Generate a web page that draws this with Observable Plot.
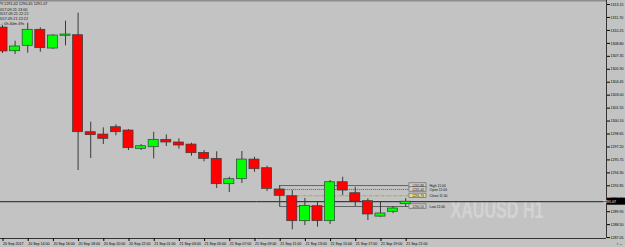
<!DOCTYPE html>
<html><head><meta charset="utf-8">
<script src="https://cdn.jsdelivr.net/npm/d3@7"></script>
<script src="https://cdn.jsdelivr.net/npm/@observablehq/plot@0.6"></script>
<style>
html,body{margin:0;padding:0;background:#c3c3c3;overflow:hidden}
svg{display:block}
</style></head><body><div id="chart"></div>
<script>
// ---- data (XAUUSD H1, 20 Sep 12:00 .. 21 Sep 21:00) ----
const barTimes = ["20 Sep 12:00","20 Sep 13:00","20 Sep 14:00","20 Sep 15:00","20 Sep 16:00","20 Sep 17:00","20 Sep 18:00","20 Sep 19:00","20 Sep 20:00","20 Sep 21:00","20 Sep 22:00","20 Sep 23:00",
  "21 Sep 01:00","21 Sep 02:00","21 Sep 03:00","21 Sep 04:00","21 Sep 05:00","21 Sep 06:00","21 Sep 07:00","21 Sep 08:00","21 Sep 09:00","21 Sep 10:00","21 Sep 11:00","21 Sep 12:00",
  "21 Sep 13:00","21 Sep 14:00","21 Sep 15:00","21 Sep 16:00","21 Sep 17:00","21 Sep 18:00","21 Sep 19:00","21 Sep 20:00","21 Sep 21:00"];
const open  = [1310.57,1307.92,1308.53,1310.32,1308.22,1309.65,1309.71,1298.85,1298.59,1299.41,1299.04,1296.99,
  1297.17,1298.00,1297.70,1297.47,1296.54,1295.87,1293.03,1293.59,1295.79,1294.82,1292.44,1291.68,
  1288.89,1290.57,1288.89,1293.25,1292.02,1291.13,1289.40,1289.94,1290.79];
const high  = [1310.80,1309.04,1311.06,1310.54,1309.79,1311.28,1312.18,1299.97,1299.34,1299.68,1299.15,1297.47,
  1298.85,1298.56,1298.11,1297.62,1296.80,1296.66,1293.81,1296.69,1296.05,1295.04,1292.88,1292.32,
  1291.43,1291.09,1293.44,1293.81,1292.69,1291.39,1291.01,1290.53,1291.42];
const low   = [1307.66,1307.55,1307.70,1307.81,1308.11,1308.53,1294.56,1295.91,1297.47,1298.45,1296.80,1296.80,
  1295.87,1297.25,1296.95,1296.16,1295.54,1292.55,1292.10,1293.11,1294.37,1292.21,1290.53,1287.92,
  1288.40,1288.21,1288.52,1291.76,1290.53,1288.96,1289.33,1289.72,1290.45];
const close = [1307.89,1308.45,1310.32,1308.26,1309.68,1309.79,1298.85,1298.52,1298.11,1298.85,1297.06,1297.28,
  1298.00,1297.70,1297.36,1296.50,1295.87,1293.03,1293.59,1295.79,1294.71,1292.51,1291.73,1288.89,
  1290.61,1288.89,1293.25,1292.32,1291.09,1289.64,1289.75,1290.31,1291.07];

const xTickIndex  = [0,2,4,6,8,10,12,14,16,18,20,22,24,26,28,30,32];
const xTickLabels = ["20 Sep 2017","20 Sep 14:00","20 Sep 16:00","20 Sep 18:00","20 Sep 20:00","20 Sep 22:00",
  "21 Sep 01:00","21 Sep 03:00","21 Sep 05:00","21 Sep 07:00","21 Sep 09:00","21 Sep 11:00","21 Sep 13:00",
  "21 Sep 15:00","21 Sep 17:00","21 Sep 19:00","21 Sep 21:00"];
const yTicks = [1313.15,1311.70,1310.25,1308.80,1307.35,1305.90,1304.45,1303.00,1301.55,1300.10,1298.65,
  1297.20,1295.75,1294.30,1292.85,1291.40,1289.95,1288.50,1287.05];

const refBar = 22;               // 21 Sep 11:00
const refTime = "11:00";
const refNames = ["High","Open","Close","Low"];
const symbolText = "XAUUSD H1";
const infoLines = ["Bar.........: 2017.09.21 13:00","Server......: 2017.09.21 22:22","Local.......: 2017.09.21 22:22","Bar ends...: 0h 40m 49s"];

// ---- build ----
const bars = open.map((o,i)=>({i, t: barTimes[i], o, h: high[i], l: low[i], c: close[i], up: close[i] >= o}));
const last = bars.length - 1;
const lastClose = close[last];
const refVals = {High: high[refBar], Open: open[refBar], Close: close[refBar], Low: low[refBar]};
const refData = refNames.map(name => ({name, v: refVals[name]}));
const headLine = "XAUUSD,H1  " + [open[last],high[last],low[last],close[last]].map(v=>v.toFixed(2)).join(" ");

const FONT = "'Liberation Sans', Arial, sans-serif";
const xDomain = [-0.16, 47.94];
const yDomain = [1286.95, 1313.60];

const chart = Plot.plot({
  width: 625, height: 247,
  marginTop: 0, marginBottom: 9, marginLeft: 0, marginRight: 19,
  style: {background: "#c3c3c3", fontFamily: FONT, color: "#000", overflow: "visible"},
  x: {type: "linear", domain: xDomain, axis: null},
  y: {domain: yDomain, axis: null},
  marks: [
    Plot.ruleY([yDomain[1]], {stroke: "#8c8c8c", strokeWidth: 2}),
    // reference lines of the 11:00 bar
    Plot.ruleY(refData.filter(d=>d.name==="High"), {y: "v", x1: refBar, x2: last + 0.25, stroke: "#4a4a4a", strokeWidth: 0.8}),
    Plot.ruleY(refData.filter(d=>d.name==="Open"), {y: "v", x1: refBar, x2: last + 0.25, stroke: "#4a4a4a", strokeWidth: 0.8, strokeDasharray: "1,1"}),
    Plot.ruleY(refData.filter(d=>d.name==="Close"), {y: "v", x1: refBar, x2: last + 0.25, stroke: "#a8a800", strokeWidth: 0.9, strokeDasharray: "3,1,1,1"}),
    Plot.ruleY(refData.filter(d=>d.name==="Low"), {y: "v", x1: refBar, x2: last + 0.25, stroke: "#4a4a4a", strokeWidth: 0.8}),
    // bid line
    Plot.ruleY([lastClose], {stroke: "#1e1e1e", strokeWidth: 1}),
    // candles
    Plot.ruleX(bars, {x: "i", y1: "l", y2: "h", stroke: "#3a3a3a", strokeWidth: 1}),
    Plot.rect(bars, {x1: d => d.i - 0.4, x2: d => d.i + 0.4, y1: "o", y2: "c",
      fill: d => d.up ? "#00ff00" : "#ff0000", stroke: "#2f3f3f", strokeWidth: 0.7}),
    // ref label boxes
    Plot.rect(refData, {x1: last + 0.3, x2: last + 1.65, y1: "v", y2: "v", insetTop: -2.2, insetBottom: -2.2,
      fill: d => d.name === "Close" ? "#dcdca0" : "#cfcfcf", stroke: "#555", strokeWidth: 0.6}),
    Plot.text(refData, {x: last + 0.975, y: "v", text: d => d.v.toFixed(2), fontSize: 3.2, fill: "#222"}),
    Plot.text(refData, {x: last + 1.9, y: "v", text: d => d.name + " " + refTime, textAnchor: "start", fontSize: 3.4, fill: "#111"}),
    // axes
    Plot.ruleX([xDomain[1]], {stroke: "#333", strokeWidth: 1}),
    Plot.ruleY([yDomain[0]], {stroke: "#333", strokeWidth: 1}),
    Plot.axisY(yTicks.filter(v => v >= yDomain[0]), {anchor: "right", tickSize: 3, tickPadding: 1, fontSize: 3.6,
      tickFormat: d => d.toFixed(2)}),
    Plot.axisX(xTickIndex, {anchor: "bottom", tickSize: 3, tickPadding: 1, fontSize: 3.6, textAnchor: "start", dx: 0.5,
      tickFormat: d => xTickLabels[xTickIndex.indexOf(d)]})
  ]
});
document.getElementById("chart").appendChild(chart);

const svg = d3.select(chart);
const ys = chart.scale("y");
const xs = chart.scale("x");
// watermark
svg.insert("text", ":nth-child(3)")
  .attr("x", 497).attr("y", 218)
  .attr("textLength", 93).attr("lengthAdjust", "spacingAndGlyphs")
  .attr("font-family", FONT).attr("font-weight", "bold").attr("font-size", 24)
  .attr("fill", "#d3d3d3").text(symbolText);
// current price box on the axis
const py = ys.apply(lastClose);
const axX = xs.apply(xDomain[1]);
svg.append("rect").attr("x", axX + 1).attr("y", py - 3.5).attr("width", 625 - axX - 1).attr("height", 7).attr("fill", "#000");
svg.append("text").attr("x", axX + 3.5).attr("y", py + 1.3).attr("font-size", 3.6).attr("font-family", FONT)
  .attr("fill", "#fff").text(lastClose.toFixed(2));
// info text
const info = svg.append("g").attr("font-family", FONT).attr("font-size", 3.8).attr("fill", "#111");
info.append("text").attr("x", 4).attr("y", 5.3).text("▼ " + headLine);
infoLines.forEach((s, k) => info.append("text").attr("x", 4).attr("y", 10.6 + k * 4.8).text(s));
</script></body></html>
